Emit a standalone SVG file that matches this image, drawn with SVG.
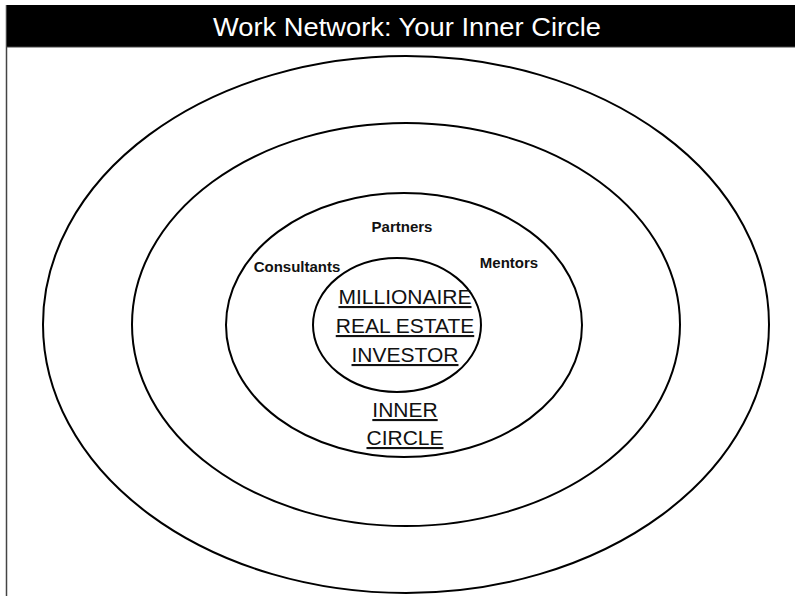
<svg xmlns="http://www.w3.org/2000/svg" width="795" height="596" viewBox="0 0 795 596">
  <style>
    .ring { fill: none; stroke: #000; stroke-width: 2; }
    .lbl { font-family: "Liberation Sans", Arial, sans-serif; font-weight: bold; font-size: 15px; fill: #111; text-anchor: middle; }
    .core { font-family: "Liberation Sans", Arial, sans-serif; font-size: 21px; fill: #111; text-anchor: middle; text-decoration: underline; }
    .title { font-family: "Liberation Sans", Arial, sans-serif; font-size: 26px; fill: #fff; text-anchor: middle; }
  </style>
  <rect x="0" y="0" width="795" height="596" fill="#fff"/>
  <g id="frame">
    <line x1="6.5" y1="5" x2="6.5" y2="596" stroke="#444" stroke-width="1.5"/>
    <rect x="7" y="5" width="788" height="42" fill="#000"/>
    <line x1="7" y1="47" x2="795" y2="47" stroke="#444" stroke-width="1"/>
    <text class="title" x="407" y="36" textLength="388" lengthAdjust="spacingAndGlyphs">Work Network: Your Inner Circle</text>
  </g>
  <g id="outer-ring">
    <ellipse class="ring" cx="406" cy="324.5" rx="363" ry="268.5"/>
  </g>
  <g id="middle-ring">
    <ellipse class="ring" cx="406" cy="324.5" rx="274" ry="201.5"/>
  </g>
  <g id="inner-circle">
    <ellipse class="ring" cx="404" cy="325" rx="178" ry="132"/>
    <text class="lbl" x="402" y="232">Partners</text>
    <text class="lbl" x="297" y="272">Consultants</text>
    <text class="lbl" x="509" y="268">Mentors</text>
    <text class="core" x="405" y="417">INNER</text>
    <text class="core" x="405" y="445">CIRCLE</text>
  </g>
  <g id="investor">
    <ellipse class="ring" cx="397" cy="325" rx="84" ry="67"/>
    <text class="core" x="405" y="304">MILLIONAIRE</text>
    <text class="core" x="405" y="333">REAL ESTATE</text>
    <text class="core" x="405" y="362">INVESTOR</text>
  </g>
  <g id="connectors"></g>
</svg>
